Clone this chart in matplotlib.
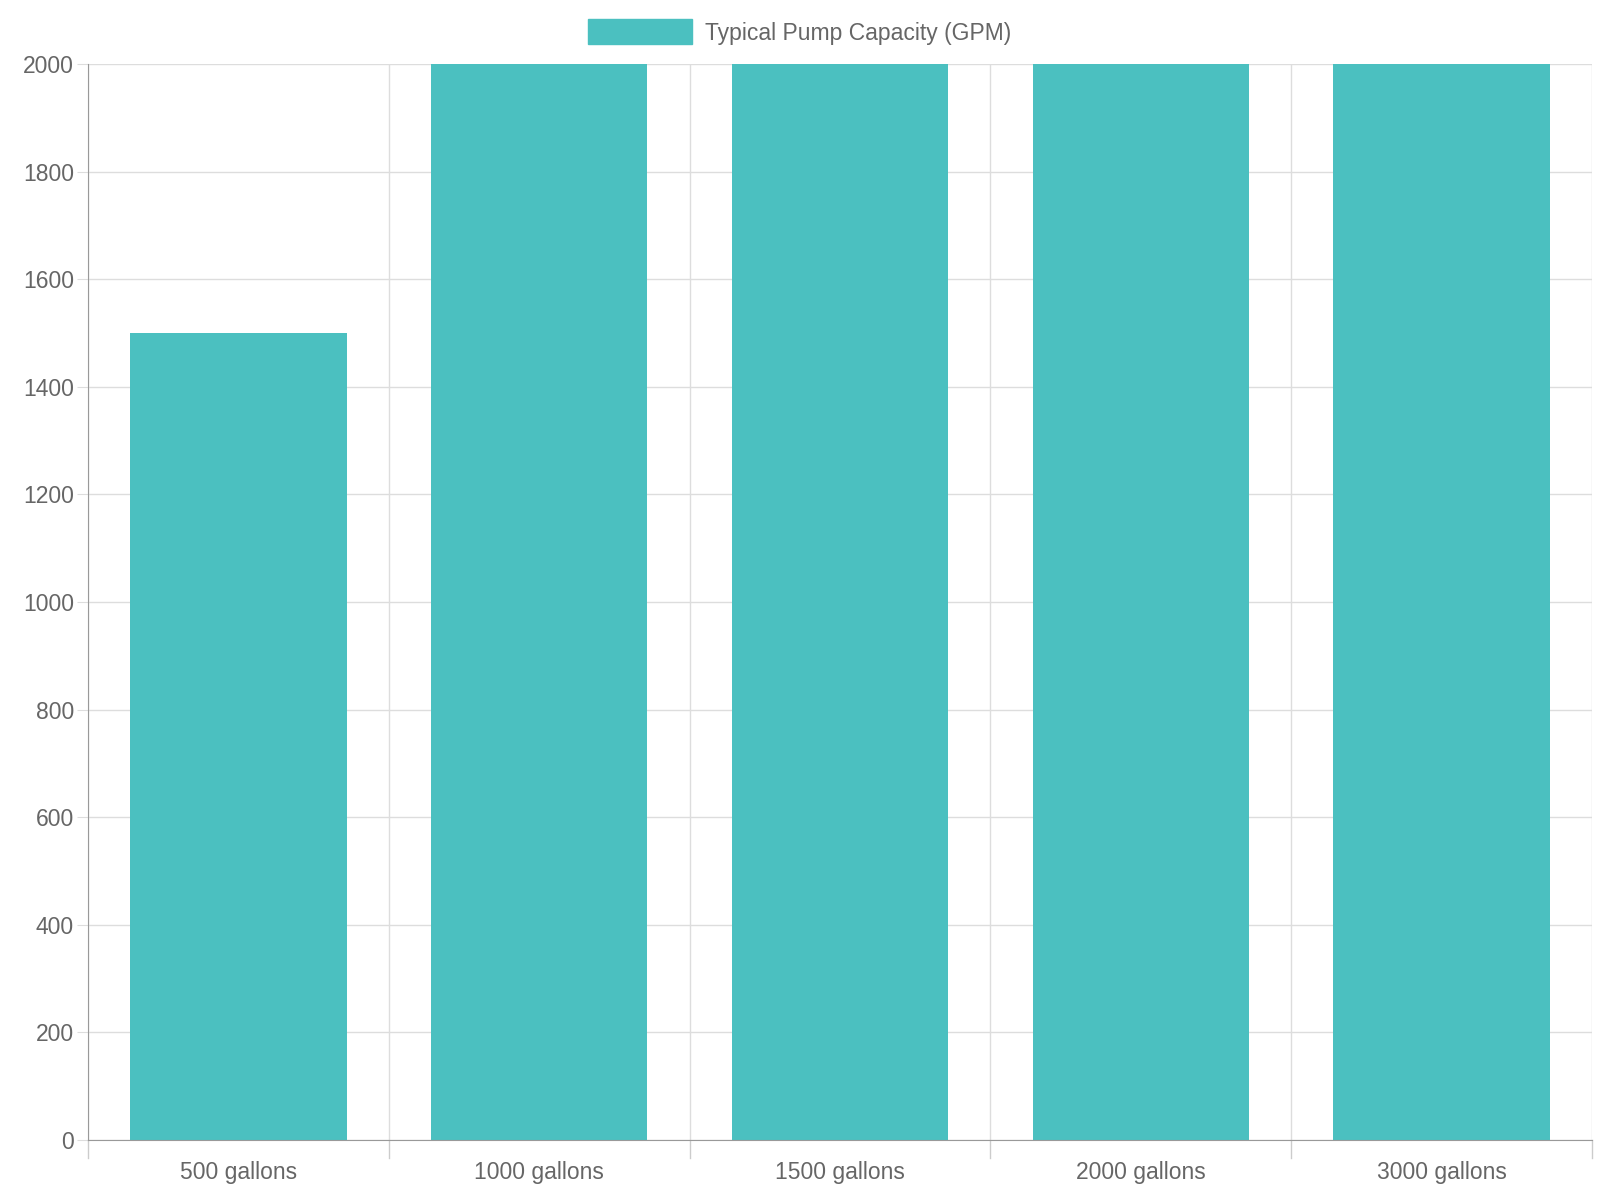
import matplotlib
matplotlib.use("Agg")
import matplotlib.pyplot as plt
from matplotlib.patches import Patch

categories = ["500 gallons", "1000 gallons", "1500 gallons", "2000 gallons", "3000 gallons"]
capacity_gpm = [1500, 2000, 2000, 2000, 2000]
yticks = [0, 200, 400, 600, 800, 1000, 1200, 1400, 1600, 1800, 2000]

plt.rcParams["font.family"] = "Liberation Sans"
fig = plt.figure(figsize=(16, 12), dpi=100)
W, H = 1600, 1200
L, R, T, B = 88, 1592, 64, 1140
ax = fig.add_axes([L/W, 1-B/H, (R-L)/W, (B-T)/H])
color = "#4bc0c0"
x = range(len(categories))
ax.bar(x, capacity_gpm, width=0.72, color=color, zorder=2)
ax.set_xlim(-0.5, len(categories)-0.5)
ax.set_ylim(0, 2000)
ax.set_yticks(yticks)
ax.set_yticklabels([str(v) for v in yticks], fontsize=16.5, color="#666666")
ax.set_xticks(list(x))
ax.set_xticklabels(categories, fontsize=16.5, color="#666666")
ax.tick_params(axis="x", length=0, pad=15)
ax.tick_params(axis="y", length=8, color="#dddddd", pad=2)
for b in [i - 0.5 for i in range(len(categories)+1)]:
    ax.axvline(b, color="#dddddd", lw=1, zorder=1)
    ax.plot([b, b], [0, -0.017], transform=ax.get_xaxis_transform(), clip_on=False, color="#cccccc", lw=1)
ax.grid(axis="y", color="#dddddd", lw=1, zorder=1)
for s in ["top", "right"]:
    ax.spines[s].set_visible(False)
for s in ["left", "bottom"]:
    ax.spines[s].set_color("#999999")
fig.legend(handles=[Patch(color=color, label="Typical Pump Capacity (GPM)")],
           loc="center", bbox_to_anchor=(0.50, 1-32/H), frameon=False, fontsize=16.5,
           labelcolor="#666666", handlelength=4.5, handleheight=1.3, handletextpad=0.6)
fig.savefig("out.png", dpi=100)
